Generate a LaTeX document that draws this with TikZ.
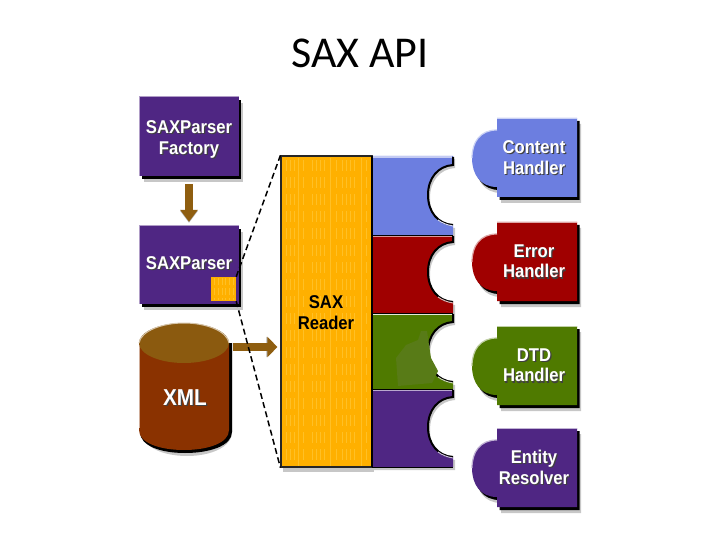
\documentclass[tikz,border=0pt]{standalone}
\usepackage{fontspec}
\setmainfont[FakeStretch=0.9]{Liberation Sans}
\newfontfamily\titlefont{Carlito}
\usetikzlibrary{arrows.meta,shadows}

\definecolor{saxpurple}{HTML}{4F2683}
\definecolor{saxblue}{HTML}{6C7EE0}
\definecolor{saxred}{HTML}{A00000}
\definecolor{saxgreen}{HTML}{4F7A00}
\definecolor{saxorange}{HTML}{FFB000}
\definecolor{saxtick}{HTML}{FFC026}
\definecolor{saxbrown}{HTML}{8A3200}
\definecolor{saxlid}{HTML}{8B5A0F}
\definecolor{saxarrow}{HTML}{8F5E10}

% Outlines, local coordinates
\newcommand{\handleroutline}{(25,0) -- (105,0) -- (105,79) -- (25,79) -- (25,69)
    .. controls (8,69) and (0,56) .. (0,40) .. controls (0,24) and (8,12) .. (25,12) -- cycle}
\newcommand{\socketoutline}[2]{(0,#1) -- (81,#1) -- (81,-30)
    .. controls (66,-29) and (56,-17) .. (56,0) .. controls (56,17) and (66,29) .. (81,30)
    -- (81,#2) -- (0,#2) -- cycle}
% Label with a dark drop behind it
\newcommand{\shtext}[1]{\rlap{\kern1.2pt\raisebox{-1.2pt}{\textcolor{black!75}{#1}}}#1}

\tikzset{
    boxnode/.style={rectangle, fill=saxpurple, inner sep=0pt,
        minimum width=99pt,
        copy shadow={shadow xshift=4pt, shadow yshift=-6pt, fill=black!22, draw=none},
        copy shadow={shadow xshift=2.5pt, shadow yshift=-3pt, fill=black, draw=none}},
    labelnode/.style={text=white, inner sep=0pt, align=center,
        font=\bfseries\fontsize{18.5}{20.5}\selectfont},
    fatarrow/.style={-{Triangle[width=17pt,length=12pt]}, line width=8pt, draw=saxarrow},
    sidearrow/.style={fatarrow, -{Triangle[width=20pt,length=10pt]}},
    fatshadow/.style={draw=black!30},
    lightedge/.style={line width=1pt, draw=white!55!saxpurple},
    dashline/.style={line width=1.5pt, dash pattern=on 6pt off 3.5pt},
    ticks/.style={draw=saxtick, line width=1pt, dash pattern=on 11pt off 6pt},
}

\begin{document}
\begin{tikzpicture}[x=1pt, y=-1pt]
    \useasboundingbox (0,0) rectangle (720,540);
    \node[font=\titlefont\fontsize{44}{50}\selectfont, inner sep=0pt] (title) at (360,53) {SAX API};

    % Left column
    \node[boxnode, minimum height=79pt] (factory) at (189,136.5) {};
    \node[labelnode] (factorylabel) at (189,140) {\shtext{SAXParser}\\\shtext{Factory}};
    \node[boxnode, minimum height=78pt] (parser) at (189,265) {};
    \node[labelnode] (parserlabel) at (189,264) {\shtext{SAXParser}};
    \node[rectangle, fill=saxorange, inner sep=0pt, minimum width=25pt, minimum height=24pt] (mini) at (223.5,289) {};
    \foreach \x in {214,218,222,225,229,233} {
        \draw[ticks, dash pattern=on 7pt off 3pt] (\x,278) -- (\x,300);
    }
    \draw[lightedge] (factory.south west) -- (factory.north west) -- (factory.north east);
    \draw[lightedge] (parser.south west) -- (parser.north west) -- (parser.north east);

    \draw[fatarrow, fatshadow, shorten <=8pt, shorten >=3pt, xshift=1pt, yshift=-2pt] (factory.south) -- (parser.north);
    \draw[fatarrow, shorten <=8pt, shorten >=4pt] (factory.south) -- (parser.north);

    % XML cylinder
    \begin{scope}[shift={(184,0)}]
        \fill[black!22] (-42,350) -- (-42,432) .. controls (-42,447) and (-21,456) .. (3,456)
            .. controls (27,456) and (48,447) .. (48,432) -- (48,350) -- cycle;
        \fill[black] (-44,343) -- (-44,432) .. controls (-44,446) and (-23,453) .. (1,453)
            .. controls (25,453) and (48,446) .. (48,432) -- (48,343) -- cycle;
        \fill[saxbrown] (-45,343) -- (-45,430) .. controls (-45,443) and (-24,450) .. (0,450)
            .. controls (24,450) and (45,443) .. (45,430) -- (45,343) -- cycle;
        \draw[white!60!saxbrown, line width=1pt] (-45,345) -- (-45,428);
        \fill[saxlid] (0,343) ellipse [x radius=45, y radius=20];
        \draw[white!65!saxlid, line width=1pt] (-45,343) .. controls (-43,331) and (-22,323) .. (0,323)
            .. controls (22,323) and (43,331) .. (45,343);
    \end{scope}
    \node[labelnode, font=\bfseries\fontsize{23}{24}\selectfont] (xml) at (185,398) {\shtext{XML}};

    % Reader with its four sockets
    \node[rectangle, fill=saxorange, draw=black!85, line width=1.2pt, inner sep=0pt,
        minimum width=91pt, minimum height=311pt,
        copy shadow={shadow xshift=2pt, shadow yshift=-5pt, fill=black!22, draw=none}] (reader) at (326.5,311.5) {};
    \foreach \x in {286,290,294,303,312,316,320,324,336,342,346,350,354,366} {
        \draw[ticks] (\x,160) -- (\x,465);
    }
    \draw[saxtick, line width=1pt] (298,158) -- (298,466) (330,158) -- (330,466) (361,158) -- (361,466);
    \node[labelnode, text=black] (readerlabel) at (326,312.5) {SAX\\Reader};

    \foreach \c/\cy/\top/\bot in {saxblue/195/-39/40, saxred/272/-37/41, saxgreen/352/-39/37, saxpurple/427/-38/40} {
        \begin{scope}[shift={(372,\cy)}]
            \fill[black!22, shift={(2,3)}] \socketoutline{\top}{\bot};
            \fill[\c] \socketoutline{\top}{\bot};
            \draw[white!60!\c, line width=1.5pt] (1,\top+1) -- (80,\top+1);
            \draw[black, line width=2pt] (81,\top+1) -- (81,-30)
                .. controls (66,-29) and (56,-17) .. (56,0) .. controls (56,17) and (66,29) .. (81,30);
            \draw[white!70!\c, line width=1pt] (66,25) .. controls (70,28) and (75,30) .. (81,31);
        \end{scope}
    }
    \fill[saxgreen!82!gray] (406,345) -- (418,340) -- (421,331) -- (427,331) -- (431,358) -- (438,371) -- (432,383) -- (398,386) -- (396,358) -- cycle;
    \draw[black, line width=1.5pt] (372,156) -- (372,467);
    \draw[black, line width=1pt] (372,235) -- (453,235) (372,313) -- (453,313) (372,389) -- (453,389) (372,467) -- (453,467);
    \draw[white!85!saxgreen, line width=1.8pt] (373,314.5) -- (452,314.5);

    % Dashed zoom lines
    \draw[dashline] (mini.north east) -- (reader.north west);
    \coordinate (xmlport) at (233,347);
    \draw[sidearrow, fatshadow, shorten >=4pt, yshift=-2pt] (xmlport) -- (xmlport -| reader.west);
    \draw[sidearrow, shorten >=3pt] (xmlport) -- (xmlport -| reader.west);
    \draw[dashline] (mini.south east) -- (reader.south west);

    % Handlers on the right
    \foreach \name/\c/\ytop in {content/saxblue/118, error/saxred/222, dtd/saxgreen/326, entity/saxpurple/428} {
        \begin{scope}[shift={(472,\ytop)}]
            \fill[black!22, shift={(4,6)}] \handleroutline;
            \fill[black, shift={(2.5,3)}] \handleroutline;
            \fill[\c] \handleroutline;
            \draw[white!65!\c, line width=1.2pt] (25,12) .. controls (8,12) and (0,24) .. (0,40);
            \draw[white!65!\c, line width=1.2pt] (25,0.5) -- (105,0.5);
            \coordinate (\name) at (62,40);
        \end{scope}
    }
    \node[labelnode] (contentlabel) at (content) {\shtext{Content}\\\shtext{Handler}};
    \node[labelnode] (errorlabel) at (error) {\shtext{Error}\\\shtext{Handler}};
    \node[labelnode] (dtdlabel) at (dtd) {\shtext{DTD}\\\shtext{Handler}};
    \node[labelnode] (entitylabel) at (entity) {\shtext{Entity}\\\shtext{Resolver}};
\end{tikzpicture}
\end{document}
